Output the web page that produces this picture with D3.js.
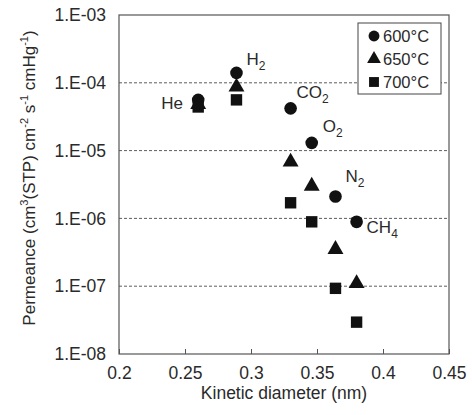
<!DOCTYPE html>
<html>
<head>
<meta charset="utf-8">
<script src="https://cdn.jsdelivr.net/npm/d3@7"></script>
<style>
  body { margin: 0; background: #fff; }
  text { font-family: "Liberation Sans", Arial, sans-serif; fill: #2a2a2a; }
</style>
</head>
<body>
<svg id="chart" width="472" height="415"></svg>
<script>
// kinetic diameters (nm) and gases
const gases = ['He', 'H2', 'CO2', 'O2', 'N2', 'CH4']
const diameters = [0.26, 0.289, 0.33, 0.346, 0.364, 0.38]

// permeance per temperature
const p600 = [5.6e-5, 1.4e-4, 4.2e-5, 1.3e-5, 2.1e-6, 8.9e-7]
const p650 = [4.8e-5, 8.7e-5, 6.8e-6, 3.0e-6, 3.5e-7, 1.1e-7]
const p700 = [4.4e-5, 5.6e-5, 1.7e-6, 8.9e-7, 9.3e-8, 2.95e-8]

const seriesNames = ['600°C', '650°C', '700°C']
const xTicks = [0.2, 0.25, 0.3, 0.35, 0.4, 0.45]
const yTicks = [1e-3, 1e-4, 1e-5, 1e-6, 1e-7, 1e-8]

const margin = {top: 15, right: 23, bottom: 61, left: 119}
const width = 472, height = 415
const svg = d3.select('#chart')

const x = d3.scaleLinear().domain([0.2, 0.45]).range([margin.left, width - margin.right])
const y = d3.scaleLog().domain([1e-8, 1e-3]).range([height - margin.bottom, margin.top])

// dashed gridlines
svg.append('g')
  .selectAll('line')
  .data(yTicks.slice(1, 5))
  .join('line')
    .attr('x1', x(0.2)).attr('x2', x(0.45))
    .attr('y1', d => y(d)).attr('y2', d => y(d))
    .attr('stroke', '#333').attr('stroke-width', 0.8)
    .attr('stroke-dasharray', '3,2')

// frame
svg.append('rect')
  .attr('x', x(0.2)).attr('y', y(1e-3))
  .attr('width', x(0.45) - x(0.2)).attr('height', y(1e-8) - y(1e-3))
  .attr('fill', 'none').attr('stroke', '#555').attr('stroke-width', 1.2)

// x axis
const xAxis = svg.append('g')
  .attr('transform', `translate(0,${y(1e-8)})`)
  .call(d3.axisBottom(x).tickValues(xTicks).tickSize(-5).tickPadding(13).tickFormat(d3.format('')))
xAxis.select('.domain').remove()
xAxis.selectAll('line').attr('stroke', '#555')
xAxis.selectAll('text').attr('font-size', 17.5).attr('font-family', '"Liberation Sans", Arial, sans-serif').attr('fill', '#2a2a2a')

// y axis labels
svg.append('g')
  .selectAll('text')
  .data(yTicks)
  .join('text')
    .attr('x', x(0.2) - 13)
    .attr('y', d => y(d))
    .attr('dy', '0.35em')
    .attr('text-anchor', 'end')
    .attr('font-size', 17.5)
    .text(d => '1.E-' + String(-Math.round(Math.log10(d))).padStart(2, '0'))

// axis titles
svg.append('text')
  .attr('x', x(0.325)).attr('y', 399)
  .attr('text-anchor', 'middle').attr('font-size', 17.5)
  .text('Kinetic diameter (nm)')

const yt = svg.append('text')
  .attr('transform', `translate(35,178) rotate(-90)`)
  .attr('text-anchor', 'middle').attr('font-size', 17)
yt.append('tspan').text('Permeance (cm')
yt.append('tspan').attr('font-size', 11).attr('dy', -7).text('3')
yt.append('tspan').attr('dy', 7).text('(STP) cm')
yt.append('tspan').attr('font-size', 11).attr('dy', -7).text('-2')
yt.append('tspan').attr('dy', 7).text(' s')
yt.append('tspan').attr('font-size', 11).attr('dy', -7).text('-1')
yt.append('tspan').attr('dy', 7).text(' cmHg')
yt.append('tspan').attr('font-size', 11).attr('dy', -7).text('-1')
yt.append('tspan').attr('dy', 7).text(')')

// markers
const symbols = [d3.symbolCircle, d3.symbolTriangle, d3.symbolSquare]
const sizes = [125, 110, 130]
const series = [p600, p650, p700]

series.forEach((vals, i) => {
  svg.append('g')
    .selectAll('path')
    .data(vals.map((v, j) => ({x: diameters[j], y: v})))
    .join('path')
      .attr('transform', d => `translate(${x(d.x)},${y(d.y)})`)
      .attr('d', d3.symbol().type(symbols[i]).size(sizes[i]))
      .attr('fill', '#111')
})

// gas labels
const labelPos = [
  {dx: -37, v: 4.1e-5},
  {dx: 10, v: 1.85e-4},
  {dx: 6, v: 5.9e-5},
  {dx: 11, v: 1.9e-5},
  {dx: 10, v: 3.4e-6},
  {dx: 10, v: 6.1e-7}
]
gases.forEach((g, j) => {
  const t = svg.append('text')
    .attr('x', x(diameters[j]) + labelPos[j].dx)
    .attr('y', y(labelPos[j].v))
    .attr('font-size', 17)
  const m = g.match(/^([A-Za-z]+?)(\d*)$/)
  t.append('tspan').text(m[1])
  if (m[2]) t.append('tspan').attr('font-size', 12).attr('dy', 5).text(m[2])
})

// legend
const lg = svg.append('g').attr('transform', 'translate(358,23)')
lg.append('rect')
  .attr('width', 83).attr('height', 71)
  .attr('fill', '#fff').attr('stroke', '#444').attr('stroke-width', 1)
seriesNames.forEach((s, i) => {
  const yy = 13 + i * 23
  lg.append('path')
    .attr('transform', `translate(16,${yy})`)
    .attr('d', d3.symbol().type(symbols[i]).size(sizes[i] * 0.75))
    .attr('fill', '#111')
  lg.append('text')
    .attr('x', 25).attr('y', yy).attr('dy', '0.36em')
    .attr('font-size', 16.5)
    .text(s)
})
</script>
</body>
</html>
